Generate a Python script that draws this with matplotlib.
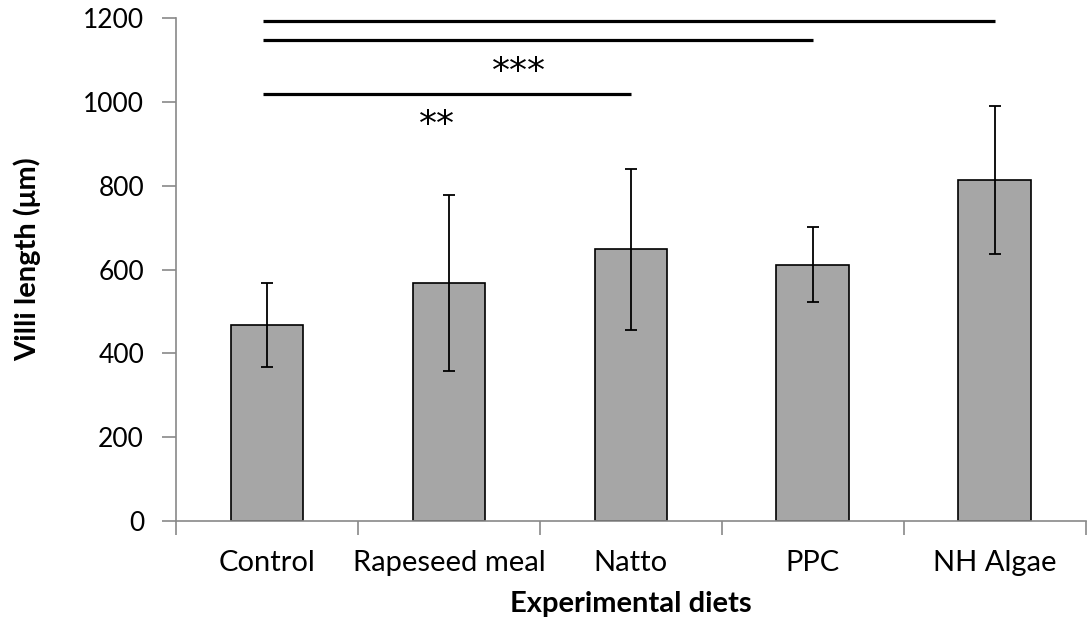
import numpy as np
import matplotlib.pyplot as plt

# ── DATA ──────────────────────────────────────────────────────
diets = ['Control', 'Rapeseed meal', 'Natto', 'PPC', 'NH Algae']
villi_length = [468, 569, 648, 612, 814]
villi_err = [101, 210, 191, 89, 177]

# significance bars: (start index, end index, y value)
sig_lines = [(0, 4, 1193), (0, 3, 1148), (0, 2, 1019)]
sig_labels = [('***', 1.385, 1072), ('**', 0.934, 945)]

# ── PLOT ──────────────────────────────────────────────────────
plt.rcParams['font.family'] = ['Lato', 'DejaVu Sans']

fig = plt.figure(figsize=(10.88, 6.19), dpi=100)
ax = fig.add_axes([0.1618, 0.1583, 0.8362, 0.8123])

x = np.arange(len(diets))
ax.bar(x, villi_length, width=0.4, color='#a6a6a6', edgecolor='black',
       linewidth=1.2, zorder=2)
ax.errorbar(x, villi_length, yerr=villi_err, fmt='none', ecolor='black',
            elinewidth=1.3, capsize=4.5, capthick=1.3, zorder=3)

for i0, i1, yv in sig_lines:
    ax.plot([i0 - 0.02, i1], [yv, yv], color='black', linewidth=2.3,
            solid_capstyle='butt', zorder=4, clip_on=False)
for txt, xv, yv in sig_labels:
    ax.text(xv, yv, txt, ha='center', va='center', fontsize=26,
            family='DejaVu Sans')

ax.set_xlim(-0.5, len(diets) - 0.5)
ax.set_ylim(0, 1200)
ax.set_yticks(np.arange(0, 1201, 200))
ax.set_xticks(np.arange(-0.5, len(diets), 1.0))
ax.set_xticklabels([])
ax.set_xticks(x, minor=True)
ax.set_xticklabels(diets, minor=True)

for side in ['top', 'right']:
    ax.spines[side].set_visible(False)
for side in ['left', 'bottom']:
    ax.spines[side].set_color('#898989')
    ax.spines[side].set_linewidth(1.2)

ax.tick_params(axis='y', direction='out', length=10, width=1.2,
               color='#898989', labelsize=19, pad=13)
ax.tick_params(axis='x', which='major', direction='out', length=10,
               width=1.2, color='#898989')
ax.tick_params(axis='x', which='minor', length=0, labelsize=21, pad=21)

ax.set_ylabel('Villi length (μm)', fontsize=21, fontweight='bold')
ax.yaxis.label.set_verticalalignment('center')
ax.yaxis.set_label_coords(-0.1637, 0.521)
ax.set_xlabel('Experimental diets', fontsize=21, fontweight='bold')
ax.xaxis.label.set_verticalalignment('center')
ax.xaxis.set_label_coords(0.5, -0.165)

plt.savefig('out.png', dpi=100)
